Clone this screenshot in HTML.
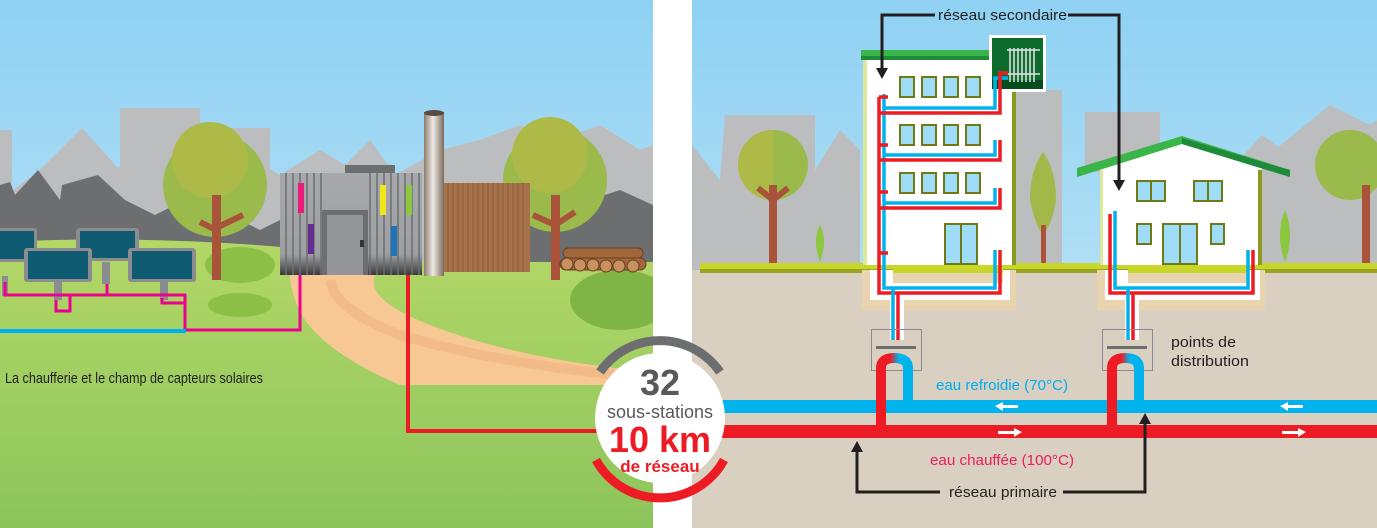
<!DOCTYPE html>
<html><head><meta charset="utf-8"><style>
html,body{margin:0;padding:0;width:1377px;height:528px;overflow:hidden;background:#fff}
svg{display:block}
text{font-family:"Liberation Sans",Arial,sans-serif}
</style></head><body>
<svg width="1377" height="528" viewBox="0 0 1377 528" xmlns="http://www.w3.org/2000/svg">
<defs>
<linearGradient id="sky" x1="0" y1="0" x2="0" y2="1"><stop offset="0" stop-color="#8fd1f3"/><stop offset="1" stop-color="#cfebf7"/></linearGradient>
<linearGradient id="grass" x1="0" y1="0" x2="0" y2="1"><stop offset="0" stop-color="#b3d767"/><stop offset="1" stop-color="#8cc55c"/></linearGradient>
<linearGradient id="chim" x1="0" y1="0" x2="1" y2="0"><stop offset="0" stop-color="#8a7a6c"/><stop offset=".45" stop-color="#f0ebe6"/><stop offset="1" stop-color="#7a6a5c"/></linearGradient>
<linearGradient id="ub" x1="0" y1="0" x2="1" y2="0"><stop offset="0" stop-color="#ed1c24"/><stop offset=".35" stop-color="#ed1c24"/><stop offset=".65" stop-color="#00b3ec"/><stop offset="1" stop-color="#00b3ec"/></linearGradient>
<linearGradient id="wall" x1="0" y1="0" x2="0" y2="1"><stop offset="0" stop-color="#a7a9ac"/><stop offset=".8" stop-color="#9d9fa2"/><stop offset="1" stop-color="#3a3a3c"/></linearGradient>
</defs>
<!-- LEFT PANEL -->
<rect x="0" y="0" width="653" height="528" fill="url(#sky)"/>
<g fill="#bcbdbf">
<rect x="0" y="130" width="12" height="150"/>
<rect x="120" y="108" width="80" height="172"/>
<rect x="205" y="128" width="65" height="152"/>
<path d="M0 200 L40 170 L82 128 L118 168 L148 140 L200 190 L240 150 L280 175 L320 150 L345 165 L370 140 L395 175 L440 150 L480 140 L520 125 L560 140 L600 125 L640 150 L653 145 L653 280 L0 280Z"/>
</g>
<path d="M0 185 L10 182 L15 195 L38 170 L60 200 L62 185 L98 175 L125 200 L155 215 L175 205 L200 225 L215 210 L240 220 L260 230 L280 220 L280 280 L0 280Z" fill="#6d6e70"/>
<path d="M530 200 L560 185 L590 200 L620 190 L653 205 L653 280 L530 280Z" fill="#6d6e70"/>
<path d="M0 242 Q200 232 420 262 L653 262 L653 528 L0 528Z" fill="url(#grass)"/>
<path d="M290 275 L375 275 Q365 300 430 325 Q520 360 653 372 L653 385 L400 385 Q330 355 305 320 Q290 295 290 275Z" fill="#f8c894"/>
<path d="M330 280 Q335 310 400 335 Q500 365 650 378" fill="none" stroke="#f3bb8a" stroke-width="10"/>
<ellipse cx="240" cy="265" rx="35" ry="18" fill="#8cbf46"/>
<ellipse cx="240" cy="305" rx="32" ry="12" fill="#8cbf46"/>
<ellipse cx="620" cy="300" rx="50" ry="30" fill="#7fb546"/>
<circle cx="215" cy="185" r="52" fill="#9bba4c"/>
<circle cx="210" cy="160" r="38" fill="#aeba48"/>
<rect x="212" y="195" width="9" height="85" fill="#a9533a"/>
<path d="M216 230 L200 222 M216 228 L243 215" stroke="#a9533a" stroke-width="6"/>
<circle cx="555" cy="180" r="52" fill="#9bba4c"/>
<circle cx="550" cy="155" r="38" fill="#aeba48"/>
<rect x="551" y="195" width="9" height="85" fill="#a9533a"/>
<path d="M555 225 L533 215 M555 225 L575 212" stroke="#a9533a" stroke-width="6"/>
<g fill="#a0673d" stroke="#6b3f22" stroke-width="1">
<rect x="563" y="248" width="80" height="10" rx="5"/><rect x="560" y="258" width="86" height="12" rx="6"/>
<circle cx="567" cy="264" r="6" fill="#c79160"/><circle cx="580" cy="265" r="6" fill="#c79160"/><circle cx="593" cy="265" r="6" fill="#c79160"/><circle cx="606" cy="266" r="6" fill="#c79160"/><circle cx="619" cy="266" r="6" fill="#c79160"/><circle cx="633" cy="266" r="6" fill="#c79160"/>
</g>
<rect x="444" y="183" width="86" height="89" fill="#a7714a"/>
<g stroke="#8a5a36" stroke-width="1">
<path d="M448 183V272M453 183V272M458 183V272M463 183V272M468 183V272M473 183V272M478 183V272M483 183V272M488 183V272M493 183V272M498 183V272M503 183V272M508 183V272M513 183V272M518 183V272M523 183V272"/>
</g>
<rect x="345" y="165" width="50" height="10" fill="#6d6e70"/>
<rect x="280" y="173" width="142" height="102" fill="url(#wall)"/>
<g stroke="#6d6e70" stroke-width="1.5"><path d="M286 173V275M293 173V275M300 173V275M307 173V275M314 173V275M321 173V275M370 173V275M377 173V275M384 173V275M391 173V275M398 173V275M405 173V275M412 173V275M419 173V275"/></g>
<rect x="322" y="210" width="46" height="65" fill="#6d6e70"/>
<rect x="327" y="215" width="36" height="60" fill="#939598"/>
<rect x="360" y="240" width="4" height="7" fill="#333"/>
<rect x="298" y="183" width="6" height="30" fill="#ec1a7a"/>
<rect x="308" y="224" width="6" height="30" fill="#662d91"/>
<rect x="380" y="185" width="6" height="30" fill="#f2e51b"/>
<rect x="406" y="185" width="6" height="30" fill="#8dc63f"/>
<rect x="391" y="226" width="6" height="30" fill="#1c75bc"/>
<rect x="424" y="112" width="20" height="164" fill="url(#chim)"/>
<ellipse cx="434" cy="113" rx="10" ry="3" fill="#5a4a40"/>
<g>
<rect x="2" y="276" width="6" height="20" fill="#8a8c8f"/>
<rect x="-5" y="228" width="42" height="34" rx="3" fill="#8a8c8f"/><rect x="-2" y="231" width="36" height="28" fill="#0e5a70"/>
<rect x="102" y="262" width="8" height="22" fill="#8a8c8f"/>
<rect x="76" y="228" width="63" height="33" rx="3" fill="#8a8c8f"/><rect x="80" y="231" width="55" height="27" fill="#0e5a70"/>
<rect x="54" y="282" width="8" height="18" fill="#8a8c8f"/>
<rect x="24" y="248" width="68" height="34" rx="3" fill="#8a8c8f"/><rect x="28" y="251" width="60" height="28" fill="#0e5a70"/>
<rect x="160" y="282" width="8" height="18" fill="#8a8c8f"/>
<rect x="128" y="248" width="68" height="34" rx="3" fill="#8a8c8f"/><rect x="132" y="251" width="60" height="28" fill="#0e5a70"/>
</g>
<g fill="none" stroke="#ec008c" stroke-width="3">
<path d="M5 282V295H185V330H300V275"/>
<path d="M107 284V295"/>
<path d="M56 300V311H70V295"/>
<path d="M162 298V303H185"/>
</g>
<path d="M0 331H186" stroke="#00aeef" stroke-width="4"/>
<path d="M408 275V431H605" fill="none" stroke="#ed1c24" stroke-width="4"/>
<text x="5" y="383" font-size="15" fill="#231f20" textLength="258" lengthAdjust="spacingAndGlyphs">La chaufferie et le champ de capteurs solaires</text>

<!-- RIGHT PANEL -->
<rect x="692" y="0" width="685" height="528" fill="url(#sky)"/>
<g fill="#bcbdbf">
<path d="M692 145 L720 180 L725 115 L815 115 L815 170 L840 130 L860 150 L860 270 L692 270Z"/>
<rect x="1012" y="90" width="50" height="180"/>
<rect x="1085" y="112" width="75" height="60"/>
<path d="M1262 160 L1330 105 L1370 125 L1377 120 L1377 270 L1262 270Z"/>
<path d="M1230 170 L1262 135 L1290 155 L1290 270 L1230 270Z"/>
</g>
<rect x="692" y="270" width="685" height="258" fill="#d9d0c2"/>
<circle cx="773" cy="165" r="35" fill="#9bba4c"/>
<path d="M773 130 A35 35 0 0 0 773 200Z" fill="#aeba48"/>
<rect x="769" y="185" width="8" height="80" fill="#a9533a"/>
<path d="M773 200 L758 188 M773 200 L788 188" stroke="#a9533a" stroke-width="6"/>
<path d="M1043 152 Q1030 170 1030 200 Q1035 225 1043 235 Q1052 225 1056 200 Q1056 170 1043 152Z" fill="#a4b84a"/>
<rect x="1041" y="225" width="5" height="40" fill="#a9533a"/>
<circle cx="1350" cy="165" r="35" fill="#9bba4c"/>
<rect x="1362" y="185" width="8" height="80" fill="#a9533a"/>
<path d="M820 225 Q812 240 820 262 Q828 240 820 225Z" fill="#8dc63f"/>
<path d="M1285 210 Q1275 235 1285 262 Q1295 235 1285 210Z" fill="#8dc63f"/>
<rect x="700" y="263" width="677" height="6" fill="#c8d62a"/>
<rect x="700" y="269" width="677" height="4" fill="#9aa31f"/>
<rect x="862" y="270" width="154" height="40" fill="#e8d4af"/>
<rect x="1097" y="270" width="168" height="40" fill="#e8d4af"/>
<rect x="870" y="270" width="140" height="30" fill="#fff"/>
<rect x="1105" y="270" width="155" height="30" fill="#fff"/>
<rect x="890" y="270" width="14" height="70" fill="#fff"/>
<rect x="1125" y="270" width="14" height="70" fill="#fff"/>
<rect x="893" y="265" width="110" height="8" fill="#c8d62a"/>
<rect x="893" y="273" width="110" height="10" fill="#e8d4af"/>
<rect x="1128" y="265" width="120" height="8" fill="#c8d62a"/>
<rect x="1128" y="273" width="120" height="10" fill="#e8d4af"/>
<rect x="863" y="58" width="153" height="207" fill="#fff"/>
<rect x="863" y="58" width="4" height="207" fill="#dfe89a"/>
<rect x="1012" y="92" width="4" height="173" fill="#8b9a1e"/>
<rect x="861" y="50" width="128" height="10" fill="#39b54a"/>
<rect x="861" y="56" width="128" height="4" fill="#1e8a3a"/>
<g fill="#9fdcf7" stroke="#6e7a14" stroke-width="2">
<rect x="900" y="77" width="14" height="20"/><rect x="922" y="77" width="14" height="20"/><rect x="944" y="77" width="14" height="20"/><rect x="966" y="77" width="14" height="20"/>
<rect x="900" y="125" width="14" height="20"/><rect x="922" y="125" width="14" height="20"/><rect x="944" y="125" width="14" height="20"/><rect x="966" y="125" width="14" height="20"/>
<rect x="900" y="173" width="14" height="20"/><rect x="922" y="173" width="14" height="20"/><rect x="944" y="173" width="14" height="20"/><rect x="966" y="173" width="14" height="20"/>
<rect x="945" y="224" width="16" height="40"/><rect x="961" y="224" width="16" height="40"/>
</g>
<rect x="989" y="35" width="57" height="57" fill="#fff"/>
<rect x="992" y="38" width="51" height="51" fill="#0e6b2e"/>
<rect x="992" y="80" width="51" height="9" fill="#064d1e"/>
<g stroke="#e6e6e6" stroke-width="1.5"><path d="M1010 48V82M1014 48V82M1018 48V82M1022 48V82M1026 48V82M1030 48V82M1034 48V82M1007 50H1040M1007 74H1040"/></g>
<path d="M1100 168 L1182 142 L1262 168 L1262 265 L1100 265Z" fill="#fff"/>
<rect x="1100" y="170" width="3" height="95" fill="#dfe89a"/>
<rect x="1258" y="170" width="4" height="95" fill="#8b9a1e"/>
<path d="M1077 168 L1182 136 L1290 170 L1290 177 L1182 144 L1077 177Z" fill="#39b54a"/>
<path d="M1182 138 L1290 170 L1290 177 L1182 144Z" fill="#1e8a3a"/>
<g fill="#9fdcf7" stroke="#6e7a14" stroke-width="2">
<rect x="1137" y="181" width="14" height="20"/><rect x="1151" y="181" width="14" height="20"/>
<rect x="1194" y="181" width="14" height="20"/><rect x="1208" y="181" width="14" height="20"/>
<rect x="1137" y="224" width="14" height="20"/>
<rect x="1163" y="224" width="17" height="40"/><rect x="1180" y="224" width="17" height="40"/>
<rect x="1211" y="224" width="13" height="20"/>
</g>
<g fill="none" stroke-width="3.5">
<path d="M884 94V288H995V250" stroke="#00b3ec"/>
<path d="M879 97V293H1000V250" stroke="#ed1c24"/>
<path d="M884 108H995V78H1008" stroke="#00b3ec"/>
<path d="M879 113H1000V73H1008" stroke="#ed1c24"/>
<path d="M884 155H995V140" stroke="#00b3ec"/>
<path d="M879 160H1000V140" stroke="#ed1c24"/>
<path d="M884 203H995V188" stroke="#00b3ec"/>
<path d="M879 208H1000V188" stroke="#ed1c24"/>
<path d="M879 97H888M879 145H888M879 192H888M879 253H888" stroke="#ed1c24"/>
<path d="M893 288V340" stroke="#00b3ec"/>
<path d="M898 293V340" stroke="#ed1c24"/>
<path d="M1115 211V288H1248V250" stroke="#00b3ec"/>
<path d="M1110 214V293H1253V250" stroke="#ed1c24"/>
<path d="M1128 288V340" stroke="#00b3ec"/>
<path d="M1133 293V340" stroke="#ed1c24"/>
</g>
<g fill="none" stroke="#8a8c8f" stroke-width="1"><rect x="871.5" y="329.5" width="50" height="41"/><rect x="1102.5" y="329.5" width="50" height="41"/></g>
<rect x="876" y="346" width="40" height="3" fill="#6d6e70"/>
<rect x="1107" y="346" width="40" height="3" fill="#6d6e70"/>
<path d="M881 432V368 Q881 358 894 358 Q908 358 908 368V407" fill="none" stroke="url(#ub)" stroke-width="10"/>
<path d="M1112 432V368 Q1112 358 1125 358 Q1139 358 1139 368V407" fill="none" stroke="url(#ub)" stroke-width="10"/>
<rect x="710" y="400" width="667" height="13" fill="#00b3ec"/>
<rect x="710" y="425" width="667" height="13" fill="#ed1c24"/>
<rect x="876" y="400" width="10" height="13" fill="#ed1c24"/>
<rect x="1107" y="400" width="10" height="13" fill="#ed1c24"/>
<g fill="#fff">
<path d="M995 406L1003 402V405H1018V408H1003V411Z"/>
<path d="M1280 406L1288 402V405H1303V408H1288V411Z"/>
<path d="M1022 432L1014 428V431H998V434H1014V437Z"/>
<path d="M1306 432L1298 428V431H1282V434H1298V437Z"/>
</g>
<rect x="653" y="0" width="39" height="528" fill="#fff"/>
<g fill="none" stroke="#231f20" stroke-width="3">
<path d="M935 15H882V70"/>
<path d="M1068 15H1119V182"/>
<path d="M940 492H857V450"/>
<path d="M1063 492H1145V422"/>
</g>
<g fill="#231f20">
<path d="M876 68H888L882 79Z"/>
<path d="M1113 180H1125L1119 191Z"/>
<path d="M851 452H863L857 441Z"/>
<path d="M1139 424H1151L1145 413Z"/>
</g>
<text x="938" y="20" font-size="15" fill="#231f20" textLength="129" lengthAdjust="spacingAndGlyphs">réseau secondaire</text>
<text x="949" y="497" font-size="15" fill="#231f20" textLength="108" lengthAdjust="spacingAndGlyphs">réseau primaire</text>
<text x="1171" y="347" font-size="15" fill="#231f20" textLength="65" lengthAdjust="spacingAndGlyphs">points de</text>
<text x="1171" y="366" font-size="15" fill="#231f20" textLength="78" lengthAdjust="spacingAndGlyphs">distribution</text>
<text x="936" y="390" font-size="15" fill="#00aeef" textLength="132" lengthAdjust="spacingAndGlyphs">eau refroidie (70°C)</text>
<text x="930" y="465" font-size="15" fill="#ed1c5a" textLength="144" lengthAdjust="spacingAndGlyphs">eau chauffée (100°C)</text>
<path d="M600 372 A73 73 0 0 1 720 372" fill="none" stroke="#6d6e70" stroke-width="9"/>
<path d="M596 460 A73 73 0 0 0 724 460" fill="none" stroke="#ed1c24" stroke-width="9"/>
<circle cx="660" cy="418" r="65" fill="#fff"/>
<text x="660" y="395" font-size="36" font-weight="bold" fill="#58595b" text-anchor="middle">32</text>
<text x="660" y="418" font-size="18" fill="#58595b" text-anchor="middle">sous-stations</text>
<text x="660" y="452" font-size="36" font-weight="bold" fill="#ed1c24" text-anchor="middle">10 km</text>
<text x="660" y="472" font-size="17" font-weight="bold" fill="#ed1c24" text-anchor="middle">de réseau</text>
</svg>
</body></html>
